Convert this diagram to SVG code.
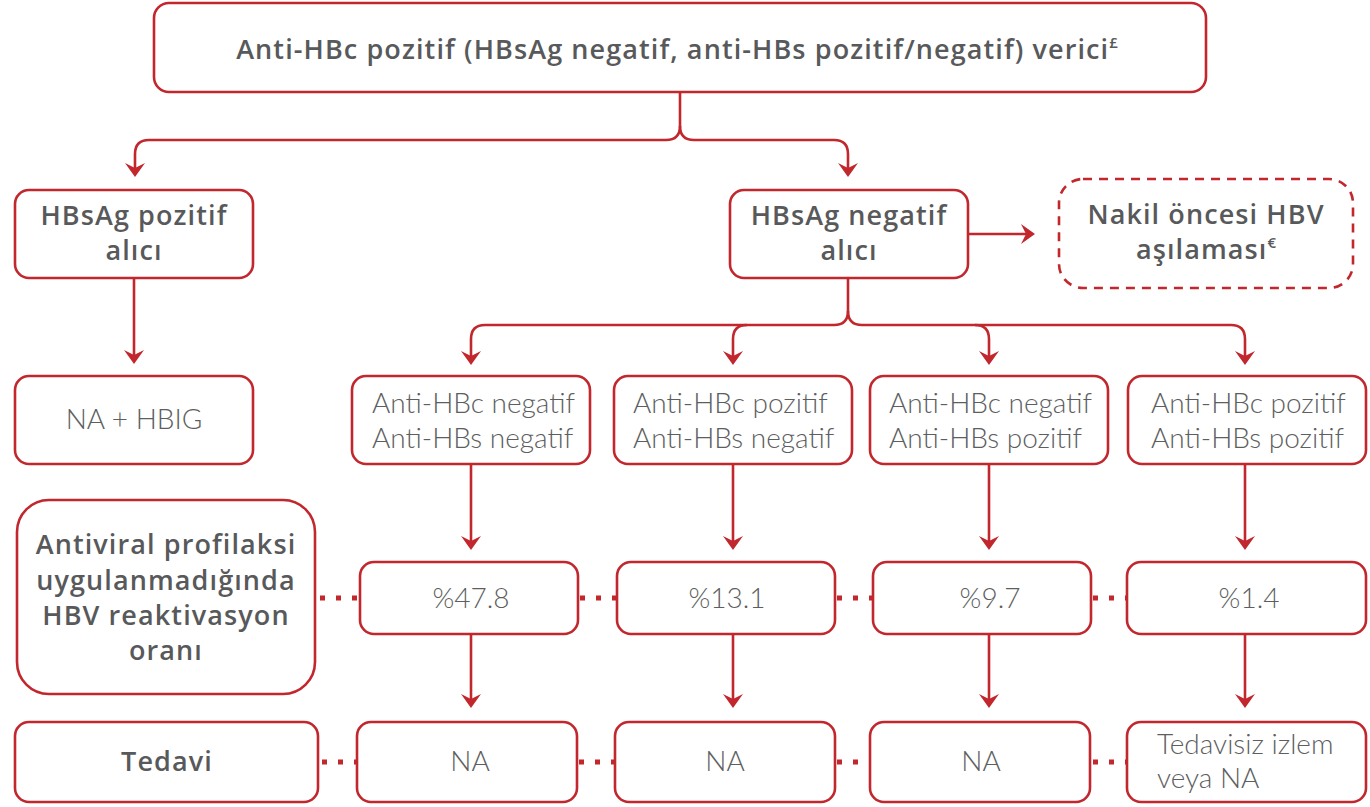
<svg xmlns="http://www.w3.org/2000/svg" width="1370" height="807" viewBox="0 0 1370 807">
<defs>
<style>
.box{fill:#fff;stroke:#c1272d;stroke-width:2.6}
.dash{fill:#fff;stroke:#c1272d;stroke-width:2.6;stroke-dasharray:9 7}
.b{font-family:"Open Sans","Liberation Sans",sans-serif;font-weight:600;font-size:27px;letter-spacing:1.1px;fill:#58595b;text-anchor:middle}
.l{font-family:Lato,"Liberation Sans",sans-serif;font-weight:300;font-size:28px;fill:#5d5e60}
.c{text-anchor:middle}
.ln{fill:none;stroke:#c1272d;stroke-width:2.6}
.dot{fill:none;stroke:#c1272d;stroke-width:5;stroke-dasharray:5 11}
.sup{font-size:15px;letter-spacing:0}
</style>
<marker id="ah" markerUnits="userSpaceOnUse" markerWidth="24" markerHeight="24" viewBox="-12 -12 24 24" refX="0" refY="0" orient="auto">
<path d="M-8,-10 L6,0 L-8,10 L-3,0 Z" fill="#c1272d"/>
</marker>
</defs>

<g id="connectors">
<path class="ln" d="M680,92 V126 Q680,140 666,140 H149 Q135,140 135,154 V171" marker-end="url(#ah)"/>
<path class="ln" d="M680,126 Q680,140 694,140 H834 Q848,140 848,154 V171" marker-end="url(#ah)"/>
<path class="ln" d="M134,278 V358" marker-end="url(#ah)"/>
<path class="ln" d="M968,234 H1029" marker-end="url(#ah)"/>
<path class="ln" d="M848,278 V311 Q848,325 834,325 H485 Q471,325 471,339 V359" marker-end="url(#ah)"/>
<path class="ln" d="M747,325 Q733,325 733,339 V359" marker-end="url(#ah)"/>
<path class="ln" d="M848,311 Q848,325 862,325 H1231 Q1245,325 1245,339 V359" marker-end="url(#ah)"/>
<path class="ln" d="M975,325 Q989,325 989,339 V359" marker-end="url(#ah)"/>
<path class="ln" d="M471,464 V544" marker-end="url(#ah)"/>
<path class="ln" d="M733,464 V544" marker-end="url(#ah)"/>
<path class="ln" d="M989,464 V544" marker-end="url(#ah)"/>
<path class="ln" d="M1245,464 V544" marker-end="url(#ah)"/>
<path class="ln" d="M471,634 V702" marker-end="url(#ah)"/>
<path class="ln" d="M733,634 V702" marker-end="url(#ah)"/>
<path class="ln" d="M989,634 V702" marker-end="url(#ah)"/>
<path class="ln" d="M1245,634 V702" marker-end="url(#ah)"/>
<path class="dot" d="M320,598 H360"/>
<path class="dot" d="M580,598 H617"/>
<path class="dot" d="M837,598 H873"/>
<path class="dot" d="M1093,598 H1127"/>
<path class="dot" d="M322,762 H357"/>
<path class="dot" d="M579,762 H615"/>
<path class="dot" d="M837,762 H870"/>
<path class="dot" d="M1093,762 H1127"/>
</g>

<g id="n-top">
<rect class="box" x="154" y="3" width="1052" height="89" rx="15"/>
<text class="b" x="677" y="59">Anti-HBc pozitif (HBsAg negatif, anti-HBs pozitif/negatif) verici<tspan class="sup" dy="-11">£</tspan></text>
</g>
<g id="n-hbsag-pos">
<rect class="box" x="15" y="190" width="238" height="88" rx="14"/>
<text class="b" x="134" y="225">HBsAg pozitif</text>
<text class="b" x="134" y="260">alıcı</text>
</g>
<g id="n-hbsag-neg">
<rect class="box" x="730" y="190" width="238" height="88" rx="14"/>
<text class="b" x="849" y="225">HBsAg negatif</text>
<text class="b" x="849" y="260">alıcı</text>
</g>
<g id="n-nakil">
<rect class="dash" x="1059" y="179" width="294" height="109" rx="24"/>
<text class="b" x="1206" y="224">Nakil öncesi HBV</text>
<text class="b" x="1206" y="259">aşılaması<tspan class="sup" dy="-11">€</tspan></text>
</g>
<g id="n-nahbig">
<rect class="box" x="15" y="376" width="238" height="88" rx="14"/>
<text class="l c" x="134" y="429">NA + HBIG</text>
</g>
<g id="n-a1">
<rect class="box" x="352" y="376" width="238" height="88" rx="14"/>
<text class="l" x="372" y="413">Anti-HBc negatif</text>
<text class="l" x="372" y="448">Anti-HBs negatif</text>
</g>
<g id="n-a2">
<rect class="box" x="614" y="376" width="238" height="88" rx="14"/>
<text class="l" x="633" y="413">Anti-HBc pozitif</text>
<text class="l" x="633" y="448">Anti-HBs negatif</text>
</g>
<g id="n-a3">
<rect class="box" x="870" y="376" width="238" height="88" rx="14"/>
<text class="l" x="889" y="413">Anti-HBc negatif</text>
<text class="l" x="889" y="448">Anti-HBs pozitif</text>
</g>
<g id="n-a4">
<rect class="box" x="1128" y="376" width="238" height="88" rx="14"/>
<text class="l" x="1151" y="413">Anti-HBc pozitif</text>
<text class="l" x="1151" y="448">Anti-HBs pozitif</text>
</g>
<g id="n-antiviral">
<rect class="box" x="17" y="500" width="298" height="194" rx="32"/>
<text class="b" x="166" y="554">Antiviral profilaksi</text>
<text class="b" x="166" y="590">uygulanmadığında</text>
<text class="b" x="166" y="625">HBV reaktivasyon</text>
<text class="b" x="166" y="660">oranı</text>
</g>
<g id="n-p1">
<rect class="box" x="360" y="562" width="218" height="72" rx="14"/>
<text class="l c" x="471" y="608">%47.8</text>
</g>
<g id="n-p2">
<rect class="box" x="617" y="562" width="218" height="72" rx="14"/>
<text class="l c" x="727" y="608">%13.1</text>
</g>
<g id="n-p3">
<rect class="box" x="873" y="562" width="218" height="72" rx="14"/>
<text class="l c" x="990" y="608">%9.7</text>
</g>
<g id="n-p4">
<rect class="box" x="1127" y="562" width="239" height="72" rx="14"/>
<text class="l c" x="1249" y="608">%1.4</text>
</g>
<g id="n-tedavi">
<rect class="box" x="15" y="722" width="303" height="80" rx="14"/>
<text class="b" x="167" y="771">Tedavi</text>
</g>
<g id="n-t1">
<rect class="box" x="357" y="722" width="220" height="80" rx="14"/>
<text class="l c" x="470" y="771">NA</text>
</g>
<g id="n-t2">
<rect class="box" x="615" y="722" width="220" height="80" rx="14"/>
<text class="l c" x="725" y="771">NA</text>
</g>
<g id="n-t3">
<rect class="box" x="870" y="722" width="220" height="80" rx="14"/>
<text class="l c" x="981" y="771">NA</text>
</g>
<g id="n-t4">
<rect class="box" x="1127" y="722" width="239" height="80" rx="14"/>
<text class="l" x="1157" y="754">Tedavisiz izlem</text>
<text class="l" x="1157" y="788">veya NA</text>
</g>
</svg>
